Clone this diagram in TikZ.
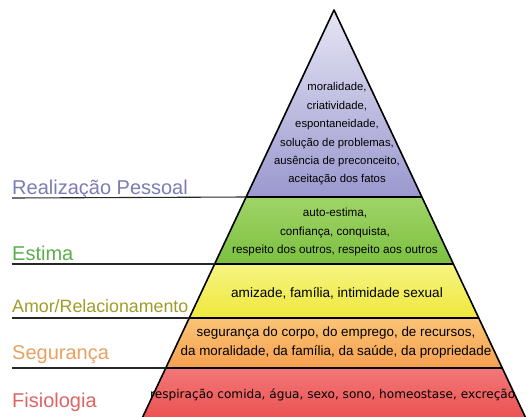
\documentclass[tikz,border=0pt]{standalone}
\usepackage{fontspec}
\setmainfont{Liberation Sans}
\newfontfamily\widefont{DejaVu Sans}
\definecolor{purpleTop}{RGB}{230,229,244}
\definecolor{purpleBot}{RGB}{154,152,206}
\definecolor{greenTop}{RGB}{160,212,104}
\definecolor{greenBot}{RGB}{124,192,64}
\definecolor{yellowTop}{RGB}{246,244,130}
\definecolor{yellowBot}{RGB}{238,232,60}
\definecolor{orangeTop}{RGB}{250,196,118}
\definecolor{orangeBot}{RGB}{246,160,80}
\definecolor{redTop}{RGB}{242,120,120}
\definecolor{redBot}{RGB}{236,80,80}
\definecolor{realCol}{RGB}{124,124,180}
\definecolor{estCol}{RGB}{90,174,76}
\definecolor{amorCol}{RGB}{160,156,40}
\definecolor{segCol}{RGB}{234,160,96}
\definecolor{fisCol}{RGB}{222,100,100}
\begin{document}
\begin{tikzpicture}[x=1pt,y=-1pt,
  edge/.style={draw=black, line width=1.6pt, line join=round},
  rule/.style={draw=black!85, line width=1.1pt},
  lbl/.style={anchor=base west, inner sep=0pt, font=\fontsize{20}{24}\selectfont},
  txt/.style={align=center, inner sep=0pt, font=\fontsize{11.3}{18.4}\selectfont},
  bigtxt/.style={align=center, inner sep=0pt, font=\fontsize{13.6}{19}\selectfont}]
\useasboundingbox (0,0) rectangle (530,416);
\coordinate (top) at (334,10);
\coordinate (l1) at (246,197);
\coordinate (r1) at (422,197);
\coordinate (l2) at (214.6,264);
\coordinate (r2) at (453.4,264);
\coordinate (l3) at (189.2,318);
\coordinate (r3) at (478.8,318);
\coordinate (l4) at (165.7,368);
\coordinate (r4) at (502.3,368);
\coordinate (l5) at (141.3,420);
\coordinate (r5) at (526.7,420);
\fill[top color=purpleTop, bottom color=purpleBot] (top) -- (l1) -- (r1) -- cycle;
\fill[top color=greenTop, bottom color=greenBot] (l1) -- (l2) -- (r2) -- (r1) -- cycle;
\fill[top color=yellowTop, bottom color=yellowBot] (l2) -- (l3) -- (r3) -- (r2) -- cycle;
\fill[top color=orangeTop, bottom color=orangeBot] (l3) -- (l4) -- (r4) -- (r3) -- cycle;
\fill[top color=redTop, bottom color=redBot] (l4) -- (l5) -- (r5) -- (r4) -- cycle;
\draw[edge] (l5) -- (top) -- (r5);
\draw[edge] (l1) -- (r1);
\draw[edge] (l2) -- (r2);
\draw[edge] (l3) -- (r3);
\draw[edge] (l4) -- (r4);
\node[lbl, text=realCol] (real) at (12,194) {Realização Pessoal};
\node[lbl, text=estCol] (est) at (12,260) {Estima};
\node[lbl, text=amorCol, font=\fontsize{17.8}{20}\selectfont] (amor) at (12,312) {Amor/Relacionamento};
\node[lbl, text=segCol] (seg) at (12,359) {Segurança};
\node[lbl, text=fisCol] (fis) at (12,407) {Fisiologia};
\coordinate (a1) at (12,198);
\coordinate (a2) at (12,264);
\coordinate (a3) at (12,318);
\coordinate (a4) at (12,368);
\draw[rule] (a1) -- (l1);
\draw[rule] (a2) -- (l2);
\draw[rule] (a3) -- (l3);
\draw[rule] (a4) -- (l4);
\node[txt] (t1) at (337,134) {moralidade,\\criatividade,\\espontaneidade,\\solução de problemas,\\ausência de preconceito,\\aceitação dos fatos};
\node[txt, font=\fontsize{11.7}{18.4}\selectfont] (t2) at (335,232) {auto-estima,\\confiança, conquista,\\respeito dos outros, respeito aos outros};
\node[bigtxt] (t3) at (337,293) {amizade, família, intimidade sexual};
\node[bigtxt, font=\fontsize{13.4}{19}\selectfont] (t4) at (336,342.5) {segurança do corpo, do emprego, de recursos,\\da moralidade, da família, da saúde, da propriedade};
\node[anchor=west, inner sep=0pt, font=\widefont\fontsize{12.1}{14}\selectfont] (t5) at (150,395) {respiração comida, água, sexo, sono, homeostase, excreção};
\end{tikzpicture}
\end{document}
